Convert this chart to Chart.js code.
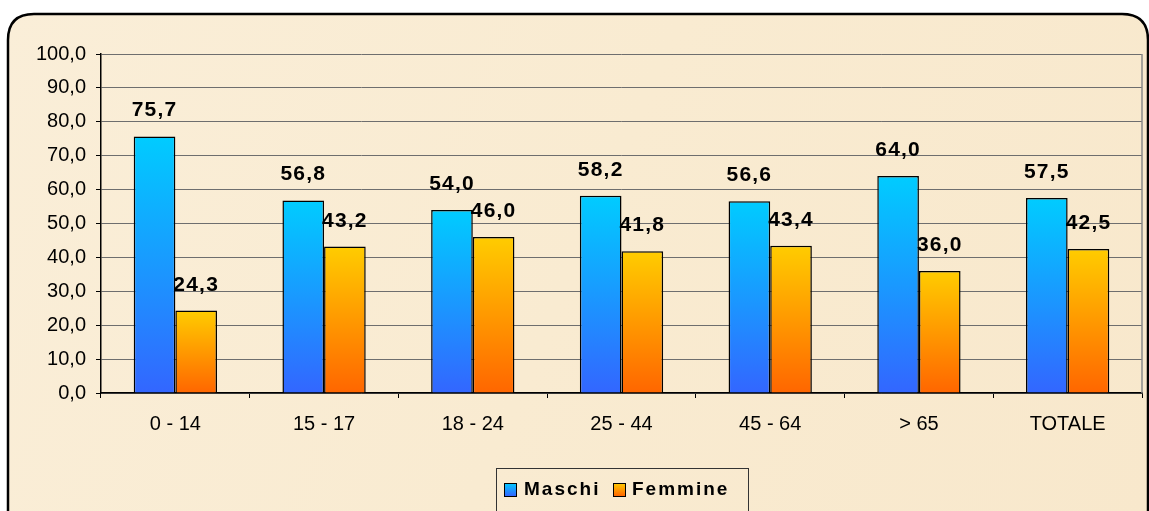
<!DOCTYPE html>
<html lang="it">

<head>
    <meta charset="UTF-8">
    <title>Maschi / Femmine per classe di età</title>
    <script src="https://cdn.jsdelivr.net/npm/chart.js"></script>
    <style>
        * {
            margin: 0;
            padding: 0;
        }

        body {
            background: #fff;
        }
    </style>
</head>

<body>
    <canvas id="grafico" width="1149" height="511"></canvas>
    <script>
        // dati
        const categorie = ["0 - 14", "15 - 17", "18 - 24", "25 - 44", "45 - 64", "> 65", "TOTALE"];
        const maschi = [75.7, 56.8, 54.0, 58.2, 56.6, 64.0, 57.5];
        const femmine = [24.3, 43.2, 46.0, 41.8, 43.4, 36.0, 42.5];
        const etichetteY = ["0,0", "10,0", "20,0", "30,0", "40,0", "50,0", "60,0", "70,0", "80,0", "90,0", "100,0"];
        const nomiSerie = ["Maschi", "Femmine"];

        const FONT = "'Liberation Sans', Arial, sans-serif";
        const colori = [
            ["#00ccff", "#3366ff"],
            ["#ffcc00", "#ff6600"]
        ];

        function sfumatura(context, i) {
            const chart = context.chart;
            if (!chart.chartArea) return colori[i][0];
            const y = chart.scales.y;
            const top = y.getPixelForValue(context.raw);
            const bottom = y.getPixelForValue(0);
            const g = chart.ctx.createLinearGradient(0, top, 0, bottom);
            g.addColorStop(0, colori[i][0]);
            g.addColorStop(1, colori[i][1]);
            return g;
        }

        function rettangoloArrotondato(ctx, x, y, w, h, r) {
            ctx.beginPath();
            ctx.moveTo(x + r, y);
            ctx.lineTo(x + w - r, y);
            ctx.quadraticCurveTo(x + w, y, x + w, y + r);
            ctx.lineTo(x + w, y + h - r);
            ctx.quadraticCurveTo(x + w, y + h, x + w - r, y + h);
            ctx.lineTo(x + r, y + h);
            ctx.quadraticCurveTo(x, y + h, x, y + h - r);
            ctx.lineTo(x, y + r);
            ctx.quadraticCurveTo(x, y, x + r, y);
            ctx.closePath();
        }

        const sfondo = {
            id: 'sfondo',
            beforeDraw(chart) {
                const ctx = chart.ctx;
                ctx.save();
                ctx.fillStyle = '#ffffff';
                ctx.fillRect(0, 0, chart.width, chart.height);
                rettangoloArrotondato(ctx, 8, 14, 1140, 540, 26);
                const g = ctx.createLinearGradient(0, 14, 1149, 511);
                g.addColorStop(0, '#faeed8');
                g.addColorStop(0.5, '#f9ebd1');
                g.addColorStop(1, '#f8e8cc');
                ctx.fillStyle = g;
                ctx.fill();
                ctx.restore();
            },
            afterDraw(chart) {
                const ctx = chart.ctx;
                const a = chart.chartArea;
                ctx.save();
                // bordo destro dell'area del grafico
                ctx.strokeStyle = '#8a8a8a';
                ctx.lineWidth = 1.5;
                ctx.beginPath();
                ctx.moveTo(a.right, a.top);
                ctx.lineTo(a.right, a.bottom);
                ctx.stroke();

                // legenda
                ctx.strokeStyle = '#333';
                ctx.lineWidth = 1;
                ctx.strokeRect(496.5, 468.5, 252, 60);
                ctx.font = 'bold 19px ' + FONT;
                ctx.letterSpacing = '2px';
                ctx.textBaseline = 'middle';
                ctx.fillStyle = '#000';
                const voci = [{ x: 504, tx: 524 }, { x: 613, tx: 632 }];
                voci.forEach((v, i) => {
                    const g = ctx.createLinearGradient(0, 483, 0, 496);
                    g.addColorStop(0, colori[i][0]);
                    g.addColorStop(1, colori[i][1]);
                    ctx.fillStyle = g;
                    ctx.fillRect(v.x, 483, 12, 13);
                    ctx.strokeStyle = '#000';
                    ctx.strokeRect(v.x + 0.5, 483.5, 12, 13);
                    ctx.fillStyle = '#000';
                    ctx.fillText(nomiSerie[i], v.tx, 490);
                });

                // bordo esterno
                ctx.letterSpacing = '0px';
                ctx.strokeStyle = '#000';
                ctx.lineWidth = 2.5;
                rettangoloArrotondato(ctx, 8, 14, 1140, 540, 26);
                ctx.stroke();
                ctx.restore();
            },
            afterDatasetsDraw(chart) {
                const ctx = chart.ctx;
                ctx.save();
                ctx.font = 'bold 21px ' + FONT;
                ctx.letterSpacing = '1.2px';
                ctx.fillStyle = '#000';
                ctx.textAlign = 'center';
                ctx.textBaseline = 'alphabetic';
                chart.data.datasets.forEach((ds, i) => {
                    chart.getDatasetMeta(i).data.forEach((bar, j) => {
                        const testo = ds.data[j].toFixed(1).replace('.', ',');
                        ctx.fillText(testo, bar.x, bar.y - 20);
                    });
                });
                ctx.restore();
            }
        };

        new Chart(document.getElementById('grafico'), {
            type: 'bar',
            data: {
                labels: categorie,
                datasets: [
                    {
                        label: nomiSerie[0],
                        data: maschi,
                        backgroundColor: c => sfumatura(c, 0),
                        borderColor: '#000',
                        borderWidth: 1.5
                    },
                    {
                        label: nomiSerie[1],
                        data: femmine,
                        backgroundColor: c => sfumatura(c, 1),
                        borderColor: '#000',
                        borderWidth: 1.5
                    }
                ]
            },
            options: {
                responsive: false,
                animation: false,
                layout: {
                    padding: { top: 54, right: 7, left: 0, bottom: 0 }
                },
                datasets: {
                    bar: {
                        categoryPercentage: 0.56,
                        barPercentage: 1
                    }
                },
                plugins: {
                    legend: { display: false },
                    tooltip: { enabled: false }
                },
                scales: {
                    x: {
                        afterFit: s => { s.height = 118; },
                        grid: {
                            drawOnChartArea: false,
                            tickLength: 5,
                            tickColor: '#000'
                        },
                        border: { color: '#000', width: 1.5 },
                        ticks: {
                            color: '#000',
                            padding: 14,
                            font: { family: FONT, size: 20 }
                        }
                    },
                    y: {
                        min: 0,
                        max: 100,
                        afterFit: s => { s.width = 101; },
                        grid: {
                            color: '#6e6e6e',
                            lineWidth: 1,
                            tickLength: 5,
                            tickColor: '#000'
                        },
                        border: { color: '#000', width: 1.5 },
                        ticks: {
                            stepSize: 10,
                            color: '#000',
                            padding: 10,
                            font: { family: FONT, size: 20 },
                            callback: (v, i) => etichetteY[i]
                        }
                    }
                }
            },
            plugins: [sfondo]
        });
    </script>
</body>

</html>
